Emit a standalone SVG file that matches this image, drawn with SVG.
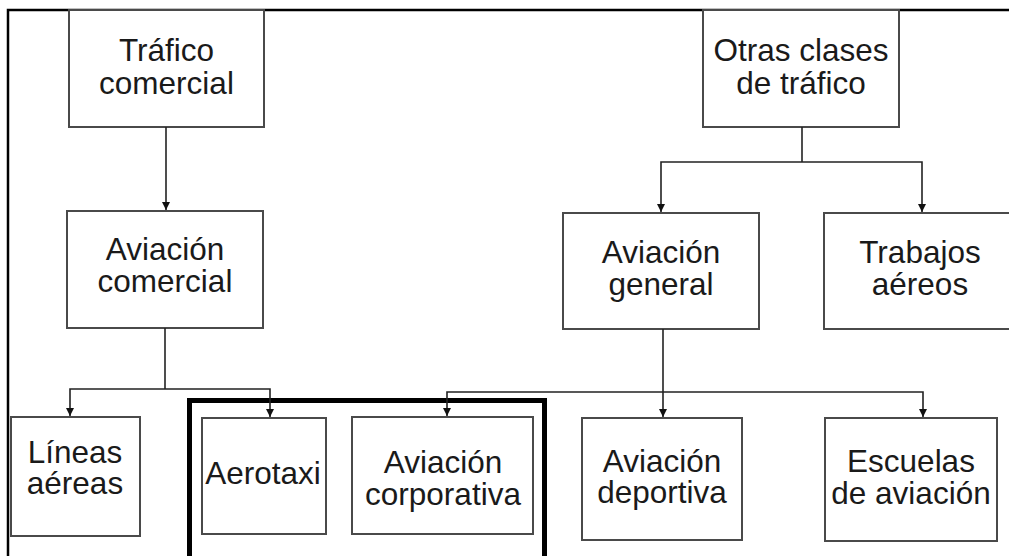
<svg xmlns="http://www.w3.org/2000/svg" width="1009" height="556" viewBox="0 0 1009 556">
<defs>
<marker id="ah" viewBox="0 0 8 10" refX="8" refY="5" markerWidth="8" markerHeight="10" markerUnits="userSpaceOnUse" orient="auto">
<path d="M0,1 L8,5 L0,9 Z" fill="#111"/>
</marker>
</defs>
<style>
.box{fill:#fff;stroke:#4a4a4a;stroke-width:2}
.t{font-family:"Liberation Sans",Arial,sans-serif;font-size:31.5px;fill:#1a1a1a;text-anchor:middle}
.c{fill:none;stroke:#222;stroke-width:1.6}
.frame{fill:none;stroke:#000;stroke-width:2.5}
.thick{fill:none;stroke:#000;stroke-width:5}
</style>
<rect width="1009" height="556" fill="#fff"/>
<path class="frame" d="M8,560 L8,10 L1012,10"/>
<rect class="thick" x="189.5" y="400.5" width="355" height="170"/>

<g id="n-trafico-comercial">
<rect class="box" x="69" y="10" width="195" height="117"/>
<text class="t" x="166.5" y="61">Tráfico</text>
<text class="t" x="166.5" y="94">comercial</text>
</g>
<g id="n-otras-clases">
<rect class="box" x="703" y="10" width="196" height="117"/>
<text class="t" x="801" y="61">Otras clases</text>
<text class="t" x="801" y="94">de tráfico</text>
</g>
<g id="n-aviacion-comercial">
<rect class="box" x="67" y="211" width="196" height="117"/>
<text class="t" x="165" y="260">Aviación</text>
<text class="t" x="165" y="292">comercial</text>
</g>
<g id="n-aviacion-general">
<rect class="box" x="563" y="213" width="196" height="116"/>
<text class="t" x="661" y="263">Aviación</text>
<text class="t" x="661" y="295">general</text>
</g>
<g id="n-trabajos-aereos">
<rect class="box" x="824" y="213" width="200" height="116"/>
<text class="t" x="920" y="263">Trabajos</text>
<text class="t" x="920" y="295">aéreos</text>
</g>
<g id="n-lineas-aereas">
<rect class="box" x="11" y="417" width="129" height="119"/>
<text class="t" x="75" y="463">Líneas</text>
<text class="t" x="75" y="494">aéreas</text>
</g>
<g id="n-aerotaxi">
<rect class="box" x="202" y="418" width="124" height="116"/>
<text class="t" x="263" y="484">Aerotaxi</text>
</g>
<g id="n-aviacion-corporativa">
<rect class="box" x="352" y="417" width="181" height="117"/>
<text class="t" x="443" y="473">Aviación</text>
<text class="t" x="443" y="505">corporativa</text>
</g>
<g id="n-aviacion-deportiva">
<rect class="box" x="582" y="418" width="160" height="122"/>
<text class="t" x="662" y="472">Aviación</text>
<text class="t" x="662" y="503">deportiva</text>
</g>
<g id="n-escuelas">
<rect class="box" x="825" y="418" width="172" height="123"/>
<text class="t" x="911" y="472">Escuelas</text>
<text class="t" x="911" y="504">de aviación</text>
</g>

<g id="connectors">
<path class="c" d="M166,127 L166,210" marker-end="url(#ah)"/>
<path class="c" d="M165,328 L165,389"/>
<path class="c" d="M165,389 L70,389 L70,416" marker-end="url(#ah)"/>
<path class="c" d="M165,389 L270,389 L270,417" marker-end="url(#ah)"/>
<path class="c" d="M802,127 L802,162"/>
<path class="c" d="M802,162 L661,162 L661,212" marker-end="url(#ah)"/>
<path class="c" d="M802,162 L922,162 L922,212" marker-end="url(#ah)"/>
<path class="c" d="M663,329 L663,392"/>
<path class="c" d="M663,392 L447,392 L447,416" marker-end="url(#ah)"/>
<path class="c" d="M663,392 L663,417" marker-end="url(#ah)"/>
<path class="c" d="M663,392 L923,392 L923,417" marker-end="url(#ah)"/>
</g>
</svg>
